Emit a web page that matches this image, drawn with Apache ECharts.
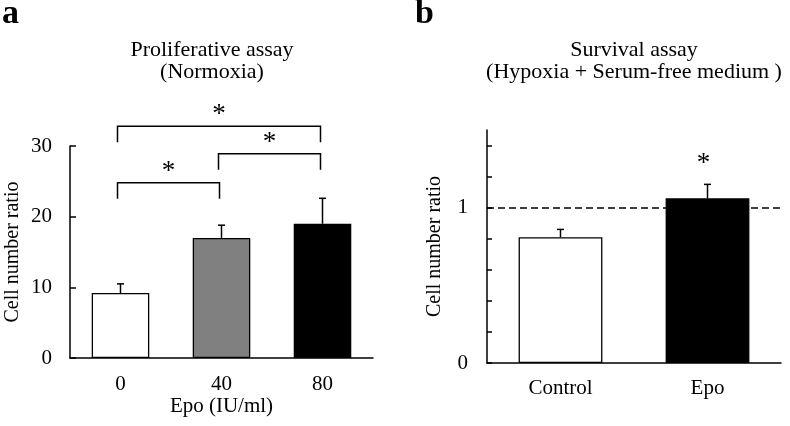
<!DOCTYPE html>
<html>
<head>
<meta charset="utf-8">
<script src="https://cdn.jsdelivr.net/npm/echarts@6/dist/echarts.min.js"></script>
<style>
html,body{margin:0;padding:0;background:#fff;}
#chart{width:790px;height:426px;}
</style>
</head>
<body>
<div id="chart"></div>
<script>
// ---- data ----
var categoriesA = ['0', '40', '80'];
var valuesA = [9.2, 17.0, 19.0];
var errorsA = [1.3, 1.8, 3.6];
var ticksA = [0, 10, 20, 30];
// significance brackets: [from category, to category, bracket level]
var bracketsA = [[0, 1, 24.8], [1, 2, 28.9], [0, 2, 32.8]];

var categoriesB = ['Control', 'Epo'];
var valuesB = [0.81, 1.06];
var errorsB = [0.05, 0.09];
var significantB = [false, true];
var ticksB = [0, 0.2, 0.4, 0.6, 0.8, 1.0, 1.2, 1.4];
var tickLabelsB = [0, 1];
var referenceB = 1;

// ---- styles ----
var FONT = "'Liberation Serif', 'Times New Roman', serif";
var barColorsA = ['#ffffff', '#808080', '#000000'];
var barColorsB = ['#ffffff', '#000000'];

function errRender(params, api) {
  var x = api.value(0), v = api.value(1), e = api.value(2), sig = api.value(3);
  var p0 = api.coord([x, v]);
  var p1 = api.coord([x, v + e]);
  var ch = [
    {type: 'line', shape: {x1: p0[0], y1: p0[1], x2: p1[0], y2: p1[1]}, style: {stroke: '#000', lineWidth: 1.5}},
    {type: 'line', shape: {x1: p1[0] - 3.5, y1: p1[1], x2: p1[0] + 3.5, y2: p1[1]}, style: {stroke: '#000', lineWidth: 1.5}}
  ];
  if (sig) {
    ch.push({type: 'text', style: {text: '*', x: p1[0] - 4, y: p1[1] - 20, align: 'center', verticalAlign: 'middle',
      fontSize: 27, fontFamily: FONT, fill: '#000'}});
  }
  return {type: 'group', children: ch};
}

function bracketRender(params, api) {
  var a = api.value(0), b = api.value(1), lv = api.value(2);
  var pa = api.coord([a, lv]);
  var pb = api.coord([b, lv]);
  var xa = pa[0] - 3, xb = pb[0] - 2, y = pa[1], drop = 16;
  return {type: 'group', children: [
    {type: 'polyline', shape: {points: [[xa, y + drop], [xa, y], [xb, y], [xb, y + drop]]},
      style: {stroke: '#000', lineWidth: 1.5, fill: null}},
    {type: 'text', style: {text: '*', x: (xa + xb) / 2, y: y - 11, align: 'center', verticalAlign: 'middle',
      fontSize: 27, fontFamily: FONT, fill: '#000'}}
  ]};
}

var axisLineStyle = {show: true, lineStyle: {color: '#000', width: 1.5}};

var option = {
  animation: false,
  backgroundColor: '#fff',
  title: [
    {text: 'a', left: 2, top: -3, padding: 0,
      textStyle: {fontSize: 34, fontWeight: 'bold', fontFamily: FONT, color: '#000', lineHeight: 34}},
    {text: 'Proliferative assay\n(Normoxia)', left: 212, textAlign: 'center', top: 39, padding: 0,
      textStyle: {fontSize: 22, fontWeight: 'normal', fontFamily: FONT, color: '#000', lineHeight: 22}},
    {text: 'b', left: 415, top: -3, padding: 0,
      textStyle: {fontSize: 34, fontWeight: 'bold', fontFamily: FONT, color: '#000', lineHeight: 34}},
    {text: 'Survival assay\n(Hypoxia + Serum-free medium )', left: 634, textAlign: 'center', top: 39, padding: 0,
      textStyle: {fontSize: 22, fontWeight: 'normal', fontFamily: FONT, color: '#000', lineHeight: 22}}
  ],
  grid: [
    {left: 70, width: 303, top: 146, height: 214},
    {left: 487, width: 294, top: 130, height: 233}
  ],
  xAxis: [
    {type: 'category', gridIndex: 0, data: categoriesA, axisLine: axisLineStyle, axisTick: {show: false},
      axisLabel: {color: '#000', fontSize: 21, fontFamily: FONT, margin: 16},
      name: 'Epo (IU/ml)', nameLocation: 'middle', nameGap: 36,
      nameTextStyle: {color: '#000', fontSize: 21, fontFamily: FONT}},
    {type: 'category', gridIndex: 1, data: categoriesB, axisLine: axisLineStyle, axisTick: {show: false},
      axisLabel: {color: '#000', fontSize: 21, fontFamily: FONT, margin: 15}}
  ],
  yAxis: [
    {type: 'value', gridIndex: 0, min: ticksA[0], max: ticksA[ticksA.length - 1], interval: ticksA[1] - ticksA[0],
      axisLine: axisLineStyle, splitLine: {show: false},
      axisTick: {show: true, inside: true, length: 6, lineStyle: {color: '#000', width: 1.5}},
      axisLabel: {color: '#000', fontSize: 21, fontFamily: FONT, margin: 18},
      name: 'Cell number ratio', nameLocation: 'middle', nameGap: 47,
      nameTextStyle: {color: '#000', fontSize: 20, fontFamily: FONT}},
    {type: 'value', gridIndex: 1, min: 0, max: 1.5,
      axisLine: axisLineStyle, splitLine: {show: false},
      axisTick: {show: true, inside: true, length: 5, customValues: ticksB, lineStyle: {color: '#000', width: 1.5}},
      axisLabel: {color: '#000', fontSize: 21, fontFamily: FONT, margin: 19, customValues: tickLabelsB,
        formatter: function (v) { return String(v); }},
      name: 'Cell number ratio', nameLocation: 'middle', nameGap: 42,
      nameTextStyle: {color: '#000', fontSize: 20, fontFamily: FONT}}
  ],
  series: [
    {type: 'bar', xAxisIndex: 0, yAxisIndex: 0, barWidth: '57%', z: 3,
      data: valuesA.map(function (v, i) {
        return {value: v, itemStyle: {color: barColorsA[i], borderColor: '#000', borderWidth: 1.3}};
      })},
    {type: 'custom', xAxisIndex: 0, yAxisIndex: 0, z: 4, clip: false, renderItem: errRender,
      encode: {x: 0, y: 1},
      data: valuesA.map(function (v, i) { return [i, v, errorsA[i], 0]; })},
    {type: 'custom', xAxisIndex: 0, yAxisIndex: 0, z: 4, clip: false, renderItem: bracketRender,
      encode: {x: [0, 1], y: 2},
      data: bracketsA},
    {type: 'bar', xAxisIndex: 1, yAxisIndex: 1, barWidth: '57%', z: 3,
      data: valuesB.map(function (v, i) {
        return {value: v, itemStyle: {color: barColorsB[i], borderColor: '#000', borderWidth: 1.3}};
      }),
      markLine: {z: 1, silent: true, symbol: 'none', label: {show: false},
        lineStyle: {color: '#000', width: 1.5, type: [7, 4]},
        data: [{yAxis: referenceB}]}},
    {type: 'custom', xAxisIndex: 1, yAxisIndex: 1, z: 4, clip: false, renderItem: errRender,
      encode: {x: 0, y: 1},
      data: valuesB.map(function (v, i) { return [i, v, errorsB[i], significantB[i] ? 1 : 0]; })}
  ]
};

var chart = echarts.init(document.getElementById('chart'), null, {renderer: 'canvas'});
chart.setOption(option);
</script>
</body>
</html>
